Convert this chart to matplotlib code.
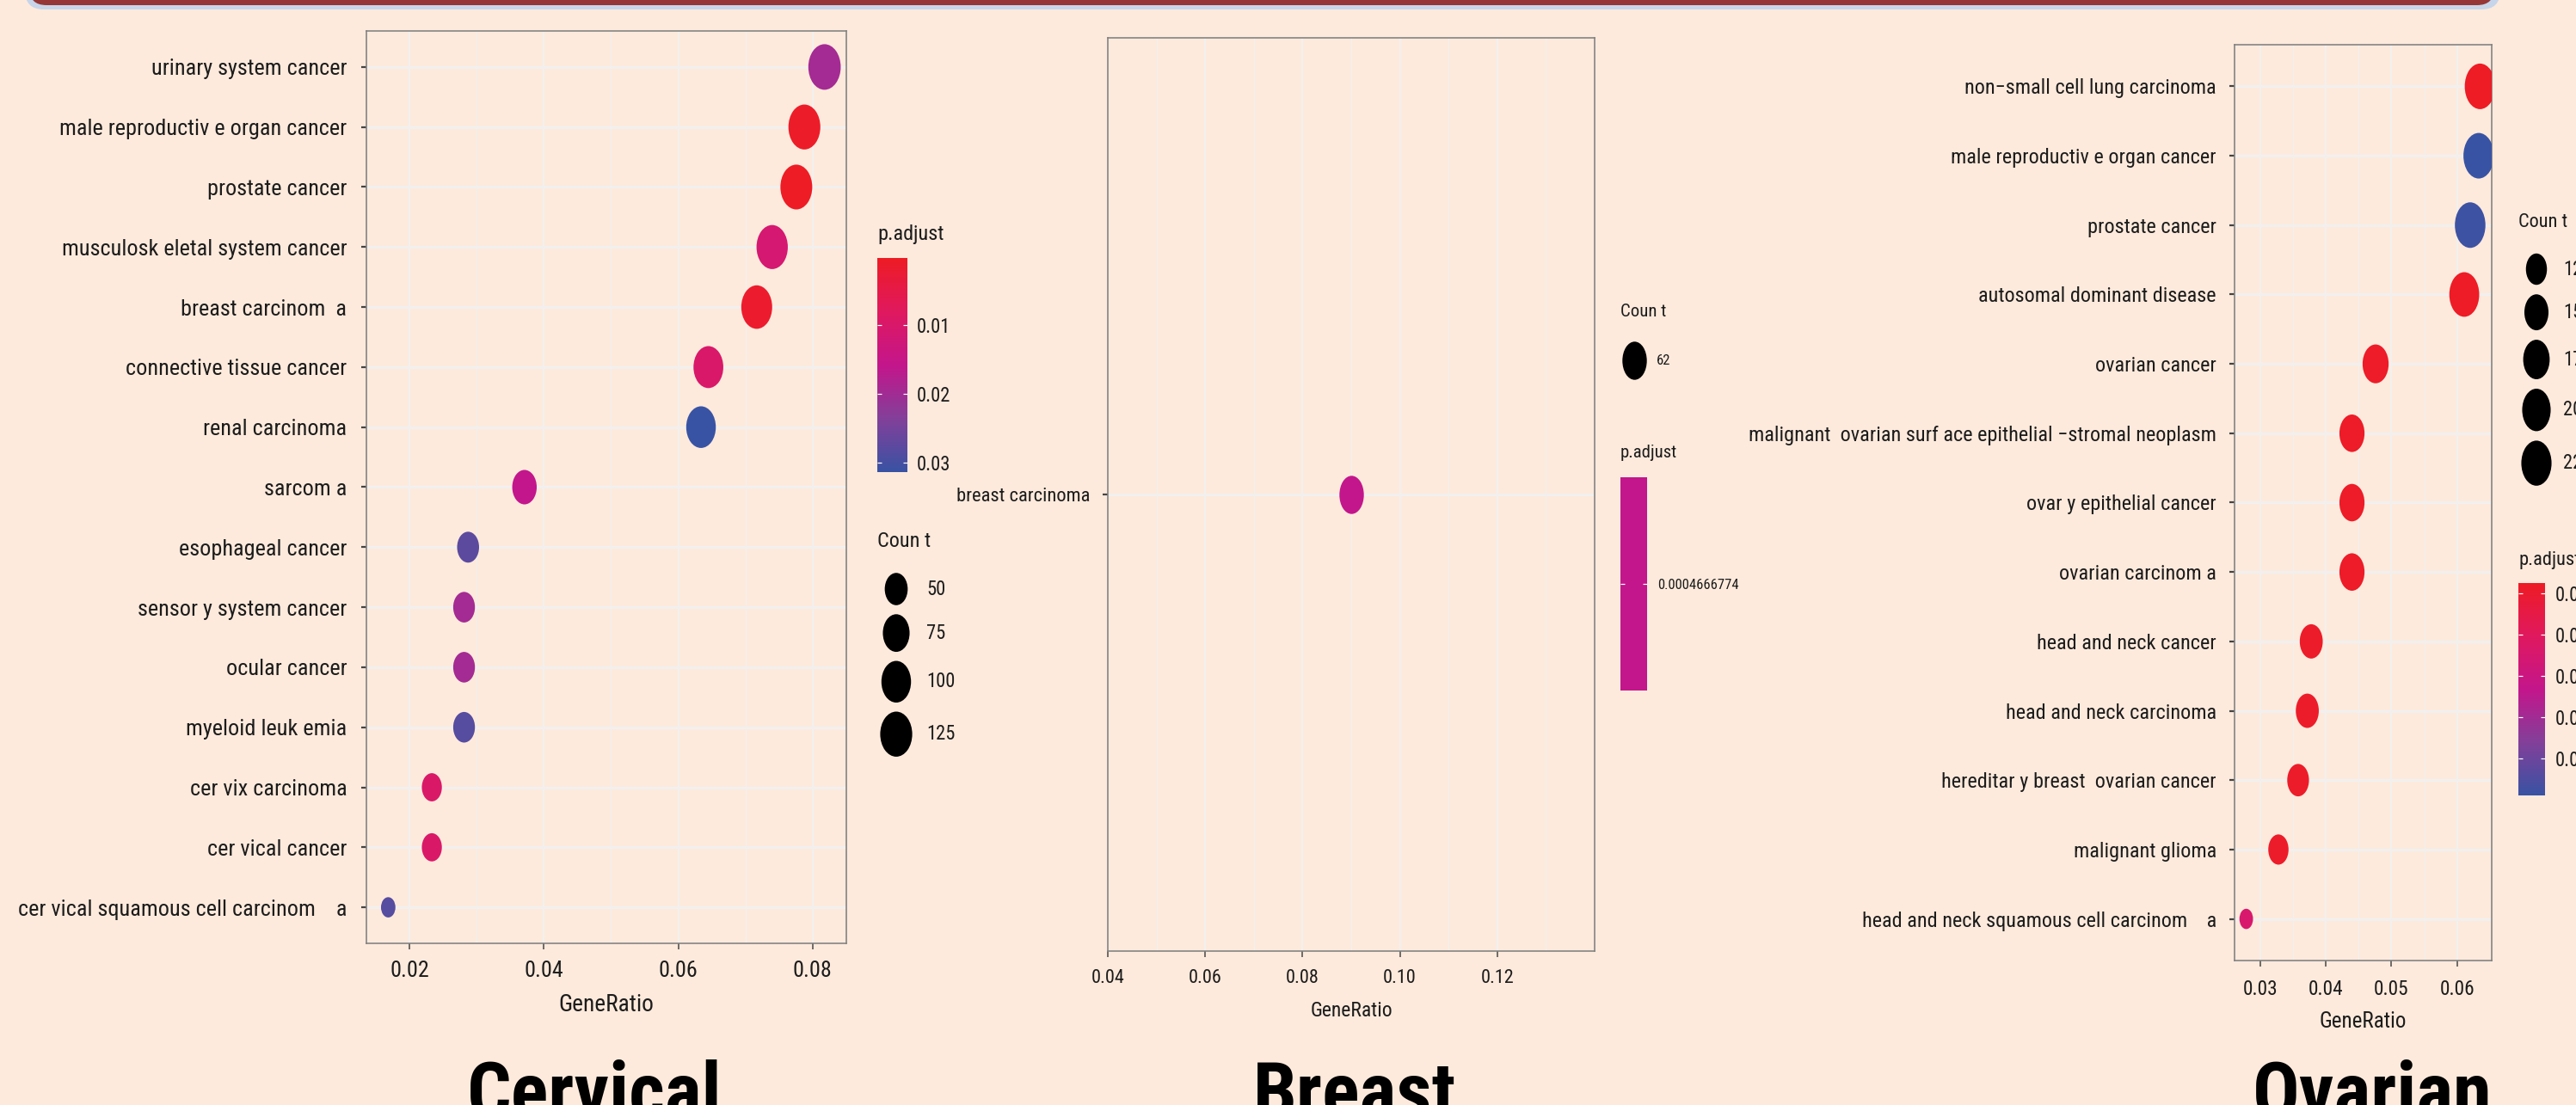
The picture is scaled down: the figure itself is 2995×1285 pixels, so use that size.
import os
import numpy as np
import matplotlib
matplotlib.use('Agg')
import matplotlib.pyplot as plt
from matplotlib import font_manager as fm
from matplotlib.colors import LinearSegmentedColormap, Normalize
from matplotlib.markers import MarkerStyle
from matplotlib.transforms import Affine2D
from matplotlib.patches import FancyBboxPatch
from matplotlib.textpath import TextPath

# ---------------------------------------------------------------- data
cervical_terms = ['urinary system cancer', 'male reproductiv e organ cancer', 'prostate cancer',
                  'musculosk eletal system cancer', 'breast carcinom  a', 'connective tissue cancer',
                  'renal carcinoma', 'sarcom a', 'esophageal cancer', 'sensor y system cancer',
                  'ocular cancer', 'myeloid leuk emia', 'cer vix carcinoma', 'cer vical cancer',
                  'cer vical squamous cell carcinom    a']
cervical_ratio = [0.0818, 0.0788, 0.0776, 0.0740, 0.0717, 0.0645, 0.0634, 0.0371,
                  0.0287, 0.0281, 0.0281, 0.0281, 0.0233, 0.0233, 0.0168]
cervical_count = [129, 124, 123, 117, 113, 102, 100, 59, 45, 44, 44, 44, 37, 37, 27]
cervical_padj = [0.0196, 0.0008, 0.0002, 0.0111, 0.0015, 0.0100, 0.0314, 0.0158,
                 0.0277, 0.0196, 0.0196, 0.0283, 0.0096, 0.0096, 0.0283]
cervical_count_breaks = [50, 75, 100, 125]
cervical_p_breaks = [0.01, 0.02, 0.03]
cervical_x_major = [0.02, 0.04, 0.06, 0.08]
cervical_x_minor = [0.03, 0.05, 0.07]

breast_terms = ['breast carcinoma']
breast_ratio = [0.09]
breast_count = [62]
breast_padj = [0.0004666774]
breast_xlim = (0.04, 0.14)
breast_x_major = [0.04, 0.06, 0.08, 0.10, 0.12]
breast_x_minor = [0.05, 0.07, 0.09, 0.11, 0.13]

ovarian_terms = ['non\u2212small cell lung carcinoma', 'male reproductiv e organ cancer', 'prostate cancer',
                 'autosomal dominant disease', 'ovarian cancer',
                 'malignant  ovarian surf ace epithelial \u2212stromal neoplasm',
                 'ovar y epithelial cancer', 'ovarian carcinom a', 'head and neck cancer',
                 'head and neck carcinoma', 'hereditar y breast  ovarian cancer', 'malignant glioma',
                 'head and neck squamous cell carcinom    a']
ovarian_ratio = [0.0635, 0.0633, 0.0620, 0.0611, 0.0476, 0.0440, 0.0440, 0.0440,
                 0.0378, 0.0372, 0.0358, 0.0328, 0.0279]
ovarian_count = [23, 23, 23, 22, 17, 16, 16, 16, 14, 14, 13, 12, 10]
ovarian_padj = [0.0188, 0.0445, 0.0440, 0.0190, 0.0192, 0.0192, 0.0192, 0.0192,
                0.0195, 0.0195, 0.0194, 0.0194, 0.0272]
ovarian_count_breaks = [12.5, 15.0, 17.5, 20.0, 22.5]
ovarian_p_breaks = [0.020, 0.025, 0.030, 0.035, 0.040]
ovarian_x_major = [0.03, 0.04, 0.05, 0.06]
ovarian_x_minor = [0.035, 0.045, 0.055]

# ---------------------------------------------------------------- style
W, H, DPI = 2995, 1285, 100
PT = 72 / DPI
BG = '#FDEADC'
GRID = '#F2F0EF'
INK = '#1c1c1c'


def narrow_font():
    # prefer a condensed face; fall back to Liberation Sans
    for fam, stretch in [('Liberation Sans Narrow', 'normal'), ('Roboto Condensed', 'normal'),
                         ('Open Sans Condensed', 'normal'), ('Noto Sans', 'condensed'),
                         ('DejaVu Sans', 'condensed'), ('Open Sans', 'condensed'),
                         ('Roboto', 'condensed')]:
        try:
            path = fm.findfont(fm.FontProperties(family=fam, stretch=stretch),
                               fallback_to_default=False)
        except ValueError:
            continue
        name = os.path.basename(path).lower()
        if 'narrow' in name or 'condensed' in name:
            return fam, stretch
    return 'Liberation Sans', 'normal'


FAM, STRETCH = narrow_font()
plt.rcParams['font.family'] = [FAM, 'DejaVu Sans']
plt.rcParams['font.stretch'] = STRETCH


def fit_pt(sample, target_px, bold=False):
    """Font size (pt) giving the sample string an ink width of target_px."""
    fp = fm.FontProperties(family=[FAM, 'DejaVu Sans'], stretch=STRETCH,
                           weight='bold' if bold else 'normal')
    w = TextPath((0, 0), sample, size=100, prop=fp).get_extents().width
    return target_px * PT * 100 / w


padj_cmap = LinearSegmentedColormap.from_list(
    'padj', [(0.0, '#EE1C25'), (0.25, '#E0195F'), (0.5, '#C4168C'),
             (0.75, '#83409A'), (1.0, '#3953A4')])

D_MIN, D_MAX = 23.6, 53.0  # point diameters in px


def diam(count, cmin, cmax):
    c = np.asarray(count, float)
    if cmax > cmin:
        t = np.clip((c - cmin) / (cmax - cmin), 0, 1)
    else:
        t = np.full_like(c, 0.5)
    return D_MIN + (D_MAX - D_MIN) * np.sqrt(t)


def area(d_px):
    return (np.asarray(d_px) * PT) ** 2


def ellipse(aspect):
    return MarkerStyle('o', transform=Affine2D().scale(aspect, 1.0))


def p_colors(padj):
    p = np.asarray(padj, float)
    if p.max() > p.min():
        return padj_cmap((p - p.min()) / (p.max() - p.min()))
    return padj_cmap(np.full_like(p, 0.5))


fig = plt.figure(figsize=(W / DPI, H / DPI), dpi=DPI)
fig.patch.set_facecolor(BG)


def px_axes(x0, y0, x1, y1):
    return fig.add_axes([x0 / W, 1 - y1 / H, (x1 - x0) / W, (y1 - y0) / H])


def dot_panel(box, terms, ratio, count, padj, aspect, fs_y, fs_x, fs_lab,
              xlab_y, ypad, xpad, major, minor, xlim=None):
    x0, y0, x1, y1 = box
    ax = px_axes(x0, y0, x1, y1)
    ax.set_facecolor('none')
    n = len(terms)
    ypos = np.arange(n)[::-1]
    r = np.asarray(ratio, float)
    if xlim is None:
        span = r.max() - r.min()
        xlim = (r.min() - 0.05 * span, r.max() + 0.05 * span)
    ax.set_xlim(xlim)
    ax.set_ylim(-0.6, n - 1 + 0.6)

    d = diam(count, min(count), max(count))
    ax.scatter(r, ypos, s=area(d), c=p_colors(padj), marker=ellipse(aspect),
               linewidths=0, zorder=3)

    ax.set_yticks(ypos, terms)
    ax.set_xticks(major, [f'{v:.2f}' for v in major])
    ax.set_xticks(minor, minor=True)
    ax.set_axisbelow(True)
    ax.grid(axis='y', which='major', color=GRID, lw=3 * PT)
    ax.grid(axis='x', which='major', color=GRID, lw=2 * PT)
    ax.grid(axis='x', which='minor', color=GRID, lw=1.2 * PT)
    ax.tick_params(axis='y', length=6 * PT, width=2.2 * PT, color='#444444',
                   pad=ypad, labelsize=fs_y, labelcolor=INK)
    ax.tick_params(axis='x', length=7 * PT, width=1.5 * PT, color='#444444',
                   pad=xpad, labelsize=fs_x, labelcolor=INK)
    ax.tick_params(which='minor', length=0)
    for sp in ax.spines.values():
        sp.set_color('#808080')
        sp.set_linewidth(1.6 * PT)
    ax.set_xlabel('GeneRatio', fontsize=fs_lab, color=INK)
    ax.xaxis.set_label_coords(0.5, -(xlab_y - y1) / (y1 - y0))
    ax.xaxis.label.set_va('center')
    return ax


def p_colorbar(box, padj, ticks, labels, fs, pad):
    cax = px_axes(*box)
    pmin, pmax = min(padj), max(padj)
    if pmax > pmin:
        grad = np.linspace(pmin, pmax, 400)[:, None]
        cax.imshow(grad, aspect='auto', cmap=padj_cmap, norm=Normalize(pmin, pmax),
                   extent=[0, 1, pmax, pmin], interpolation='bilinear')
        cax.set_ylim(pmax, pmin)
    else:
        cax.set_facecolor(padj_cmap(0.5))
        cax.set_ylim(pmin + 1e-4, pmin - 1e-4)
    cax.set_xlim(0, 1)
    cax.set_xticks([])
    cax.set_yticks(ticks, labels)
    cax.tick_params(axis='y', left=True, right=True, labelleft=False, labelright=True,
                    direction='in', color='white', length=5 * PT, width=1.2 * PT,
                    labelcolor=INK, labelsize=fs, pad=pad)
    for sp in cax.spines.values():
        sp.set_visible(False)
    return cax


# ---------------------------------------------------------------- text sizes
cer_y = fit_pt('connective tissue cancer', 255)
cer_x = fit_pt('0.02', 43)
cer_lab = fit_pt('GeneRatio', 108)
cer_ltitle = fit_pt('p.adjust', 75)
cer_ltext = fit_pt('0.01', 34)

br_y = fit_pt('breast carcinoma', 152)
br_x = fit_pt('0.04', 37)
br_lab = fit_pt('GeneRatio', 93)
br_ltitle = fit_pt('p.adjust', 64)
br_ltext = fit_pt('0.0004666774', 93)

ov_y = fit_pt('non\u2212small cell lung carcinoma', 289)
ov_x = fit_pt('0.03', 38)
ov_lab = fit_pt('GeneRatio', 99)
ov_ltitle = fit_pt('Coun t', 55)

title_pt = fit_pt('Cervical', 287, bold=True)

# ---------------------------------------------------------------- panels
dot_panel((426, 36, 984, 1097), cervical_terms, cervical_ratio, cervical_count, cervical_padj,
          0.71, cer_y, cer_x, cer_lab, 1168, 12, 9.5, cervical_x_major, cervical_x_minor)
dot_panel((1288, 44, 1854, 1106), breast_terms, breast_ratio, breast_count, breast_padj,
          0.64, br_y, br_x, br_lab, 1176, 10.8, 10, breast_x_major, breast_x_minor,
          xlim=breast_xlim)
dot_panel((2598, 52, 2897, 1117), ovarian_terms, ovarian_ratio, ovarian_count, ovarian_padj,
          0.67, ov_y, ov_x, ov_lab, 1188, 10.8, 10.8, ovarian_x_major, ovarian_x_minor)

p_colorbar((1020, 300, 1055, 549), cervical_padj, cervical_p_breaks,
           [f'{v:.2f}' for v in cervical_p_breaks], cer_ltext, 8)
p_colorbar((1884, 555, 1915, 803), breast_padj, breast_padj,
           [f'{v:.10f}' for v in breast_padj], br_ltext, 8.6)
p_colorbar((2928, 678, 2959, 925), ovarian_padj, ovarian_p_breaks,
           [f'{v:.3f}' for v in ovarian_p_breaks], cer_ltext, 8.6)

# overlay in pixel units for legends, banner and panel titles
lay = fig.add_axes([0, 0, 1, 1])
lay.set_xlim(0, W)
lay.set_ylim(H, 0)
lay.axis('off')
lay.patch.set_alpha(0)

lay.add_patch(FancyBboxPatch((29, -60), 2878, 71, boxstyle='round,pad=0,rounding_size=22',
                             fc='#C7D5EA', ec='none'))
lay.add_patch(FancyBboxPatch((34, -60), 2866, 66, boxstyle='round,pad=0,rounding_size=20',
                             fc='#963636', ec='none'))


def count_legend(x_title, y_title, y_first, key_x, lab_x, breaks, labels, count, aspect,
                 fs_title, fs_lab, gap=10.5):
    lay.text(x_title, y_title, 'Coun t', fontsize=fs_title, color=INK, va='center', ha='left')
    d = diam(breaks, min(count), max(count))
    ys = [y_first]
    for i in range(1, len(d)):
        ys.append(ys[-1] + (d[i - 1] + d[i]) / 2 + gap)
    lay.scatter([key_x] * len(ys), ys, s=area(d), c='black', marker=ellipse(aspect),
                linewidths=0)
    for yy, lab in zip(ys, labels):
        lay.text(lab_x, yy, lab, fontsize=fs_lab, color=INK, va='center', ha='left')


count_legend(1020, 630, 685, 1042, 1077, cervical_count_breaks,
             [str(v) for v in cervical_count_breaks], cervical_count, 0.71,
             cer_ltitle, cer_ltext)
count_legend(1884, 363, 419, 1900, 1926, breast_count, [str(v) for v in breast_count],
             breast_count, 0.64, br_ltitle, br_ltext)
count_legend(2928, 259, 313, 2949, 2980, ovarian_count_breaks,
             [f'{v:.1f}' for v in ovarian_count_breaks], ovarian_count, 0.67,
             ov_ltitle, cer_ltext, gap=11)

lay.text(1020, 272, 'p.adjust', fontsize=cer_ltitle, color=INK, va='center', ha='left')
lay.text(1884, 527, 'p.adjust', fontsize=br_ltitle, color=INK, va='center', ha='left')
lay.text(2928, 651, 'p.adjust', fontsize=ov_ltitle, color=INK, va='center', ha='left')

for cx, name in [(691, 'Cervical'), (1575, 'Breast'), (2758, 'Ovarian')]:
    lay.text(cx, 1232, name, fontsize=title_pt, fontweight='bold', color='black',
             ha='center', va='top')

fig.savefig('out.png', dpi=DPI, facecolor=BG)
